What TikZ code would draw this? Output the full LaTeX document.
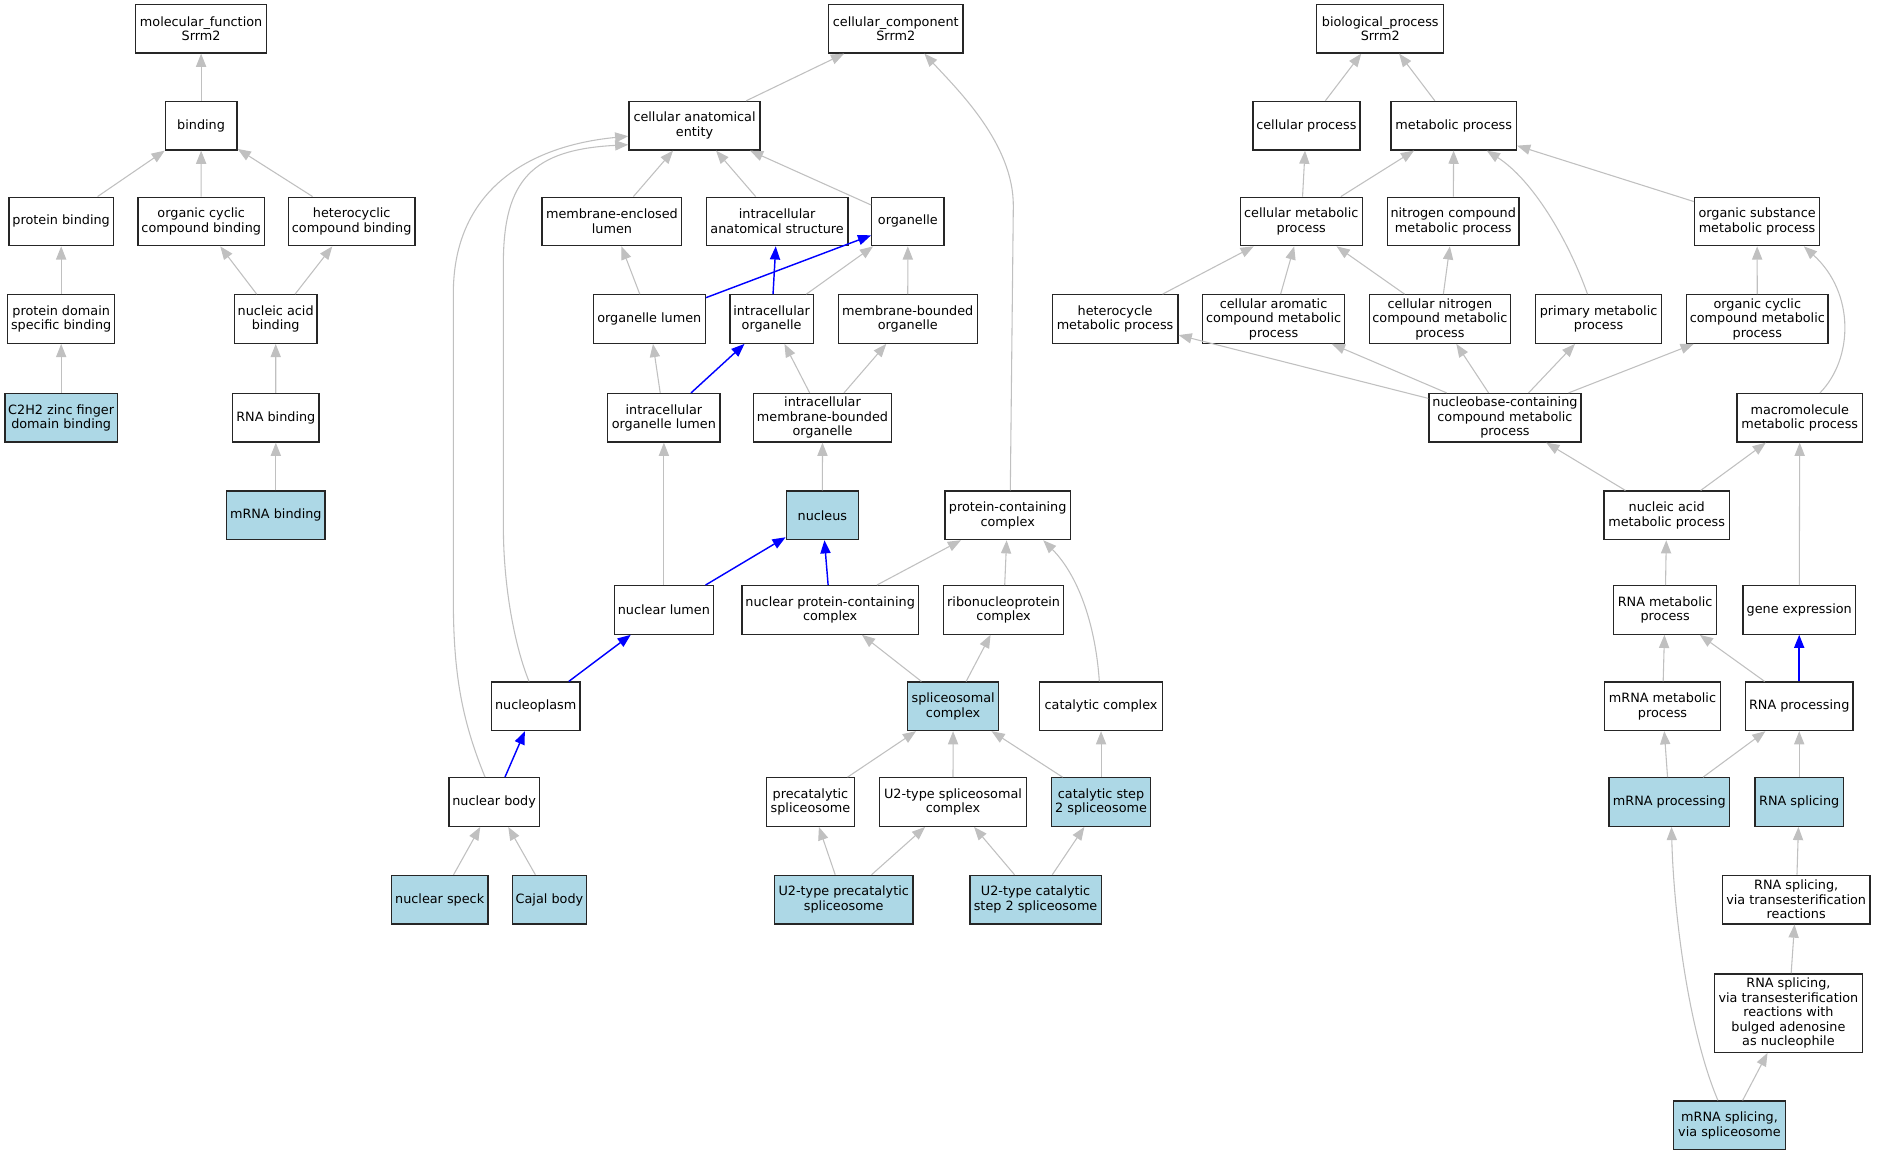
\documentclass[tikz,border=0pt]{standalone}
\usepackage{fontspec}
\setmainfont{DejaVu Sans}
\usetikzlibrary{arrows.meta}
\definecolor{edgegray}{RGB}{192,192,192}
\definecolor{hitblue}{RGB}{173,216,230}
\definecolor{edgeblue}{RGB}{0,0,255}
\tikzset{
  gobox/.style={draw=black!85, line width=1.1pt, fill=white, inner sep=0pt, align=center,
    font=\fontsize{10.7}{12.1}\selectfont, minimum height=40.5pt},
  hitbox/.style={gobox, fill=hitblue},
  gedge/.style={draw=edgegray, line width=0.9pt, -{Triangle[length=11pt,width=8.5pt]}},
  bedge/.style={draw=edgeblue, line width=1.2pt, -{Triangle[length=11pt,width=8.5pt]}}
}
\begin{document}
\begin{tikzpicture}[x=1pt, y=-1pt]
\useasboundingbox (0,0) rectangle (1568,964.9);
% ---------- molecular function ----------
\node[gobox, minimum width=109.5pt] (mf) at (168,24) {molecular\_function\\Srrm2};
\node[gobox, minimum width=60pt] (bind) at (168,105) {binding};
\node[gobox, minimum width=87.2pt] (pb) at (51.1,185) {protein binding};
\node[gobox, minimum width=105.6pt] (occb) at (168.1,185) {organic cyclic\\compound binding};
\node[gobox, minimum width=105.8pt] (hcb) at (293.8,185) {heterocyclic\\compound binding};
\node[gobox, minimum width=89.4pt] (pdsb) at (51.1,266.5) {protein domain\\specific binding};
\node[gobox, minimum width=69.1pt] (nab) at (230.3,266.5) {nucleic acid\\binding};
\node[hitbox, minimum width=93.8pt] (czf) at (51.1,349) {C2H2 zinc finger\\domain binding};
\node[gobox, minimum width=72.1pt] (rnab) at (230.4,349) {RNA binding};
\node[hitbox, minimum width=82.1pt] (mrnab) at (230.4,430.5) {mRNA binding};
% ---------- cellular component ----------
\node[gobox, minimum width=112.2pt] (cc) at (748.3,24) {cellular\_component\\Srrm2};
\node[gobox, minimum width=109.6pt] (cae) at (580.2,105) {cellular anatomical\\entity};
\node[gobox, minimum width=116.7pt] (mel) at (511.2,185) {membrane-enclosed\\lumen};
\node[gobox, minimum width=118.2pt] (ias) at (649.2,185) {intracellular\\anatomical structure};
\node[gobox, minimum width=60.3pt] (org) at (758.4,185) {organelle};
\node[gobox, minimum width=93.7pt] (ol) at (542.4,266.5) {organelle lumen};
\node[gobox, minimum width=69.5pt] (io) at (644.6,266.5) {intracellular\\organelle};
\node[gobox, minimum width=116pt] (mbo) at (758.3,266.5) {membrane-bounded\\organelle};
\node[gobox, minimum width=93.7pt] (iol) at (554.6,349) {intracellular\\organelle lumen};
\node[gobox, minimum width=115.8pt] (imbo) at (687.1,349) {intracellular\\membrane-bounded\\organelle};
\node[hitbox, minimum width=60.3pt] (nuc) at (687,430.5) {nucleus};
\node[gobox, minimum width=104.9pt] (pcc) at (841.8,430.5) {protein-containing\\complex};
\node[gobox, minimum width=82.4pt] (nl) at (554.6,509.5) {nuclear lumen};
\node[gobox, minimum width=147.4pt] (npc) at (693.5,509.5) {nuclear protein-containing\\complex};
\node[gobox, minimum width=100.5pt] (rnp) at (838.4,509.5) {ribonucleoprotein\\complex};
\node[gobox, minimum width=74.1pt] (np) at (447.5,590) {nucleoplasm};
\node[hitbox, minimum width=76.1pt] (sc) at (796.2,590) {spliceosomal\\complex};
\node[gobox, minimum width=102.5pt] (catc) at (919.8,590) {catalytic complex};
\node[gobox, minimum width=75.7pt] (nb) at (412.8,670) {nuclear body};
\node[gobox, minimum width=73.4pt] (pcs) at (677,670) {precatalytic\\spliceosome};
\node[gobox, minimum width=123pt] (u2sc) at (796.1,670) {U2-type spliceosomal\\complex};
\node[hitbox, minimum width=82.8pt] (cs2) at (919.8,670) {catalytic step\\2 spliceosome};
\node[hitbox, minimum width=80.7pt] (ns) at (367.3,751.5) {nuclear speck};
\node[hitbox, minimum width=62.3pt] (cb) at (459,751.5) {Cajal body};
\node[hitbox, minimum width=115.6pt] (u2pcs) at (704.8,751.5) {U2-type precatalytic\\spliceosome};
\node[hitbox, minimum width=109.6pt] (u2cs2) at (865.1,751.5) {U2-type catalytic\\step 2 spliceosome};
% ---------- biological process ----------
\node[gobox, minimum width=106pt] (bp) at (1153,24) {biological\_process\\Srrm2};
\node[gobox, minimum width=89.4pt] (cp) at (1091.3,105) {cellular process};
\node[gobox, minimum width=104.8pt] (mp) at (1214.4,105) {metabolic process};
\node[gobox, minimum width=102pt] (cmp) at (1087,185) {cellular metabolic\\process};
\node[gobox, minimum width=110pt] (ncmp) at (1214,185) {nitrogen compound\\metabolic process};
\node[gobox, minimum width=104.4pt] (osmp) at (1467.8,185) {organic substance\\metabolic process};
\node[gobox, minimum width=105pt] (hmp) at (931.5,266.5) {heterocycle\\metabolic process};
\node[gobox, minimum width=118.3pt] (camp) at (1063.9,266.5) {cellular aromatic\\compound metabolic\\process};
\node[gobox, minimum width=118.3pt] (cncmp) at (1202.9,266.5) {cellular nitrogen\\compound metabolic\\process};
\node[gobox, minimum width=105.2pt] (pmp) at (1335.4,266.5) {primary metabolic\\process};
\node[gobox, minimum width=118pt] (occmp) at (1468,266.5) {organic cyclic\\compound metabolic\\process};
\node[gobox, minimum width=127pt] (nbcmp) at (1257.2,349) {nucleobase-containing\\compound metabolic\\process};
\node[gobox, minimum width=105pt] (mmp) at (1503.5,349) {macromolecule\\metabolic process};
\node[gobox, minimum width=104.6pt] (namp) at (1392.3,430.5) {nucleic acid\\metabolic process};
\node[gobox, minimum width=86pt] (rmp) at (1391,509.5) {RNA metabolic\\process};
\node[gobox, minimum width=94pt] (gexp) at (1503,509.5) {gene expression};
\node[gobox, minimum width=96.5pt] (mrmp) at (1388.8,590) {mRNA metabolic\\process};
\node[gobox, minimum width=90pt] (rp) at (1503,590) {RNA processing};
\node[hitbox, minimum width=101pt] (mrp) at (1394.5,670) {mRNA processing};
\node[hitbox, minimum width=74pt] (rs) at (1503,670) {RNA splicing};
\node[gobox, minimum width=123pt] (rstr) at (1500.5,751.5) {RNA splicing,\\via transesterification\\reactions};
\node[gobox, minimum width=124pt, minimum height=65.5pt] (rsbul) at (1494,846.3) {RNA splicing,\\via transesterification\\reactions with\\bulged adenosine\\as nucleophile};
\node[hitbox, minimum width=93.5pt] (mrss) at (1444.8,940) {mRNA splicing,\\via spliceosome};
% ---------- edges: molecular function ----------
\draw[gedge] (bind) -- (mf);
\draw[gedge] (pb) -- (bind);
\draw[gedge] (occb) -- (bind);
\draw[gedge] (hcb) -- (bind);
\draw[gedge] (pdsb) -- (pb);
\draw[gedge] (nab) -- (occb);
\draw[gedge] (nab) -- (hcb);
\draw[gedge] (czf) -- (pdsb);
\draw[gedge] (rnab) -- (nab);
\draw[gedge] (mrnab) -- (rnab);
% ---------- edges: cellular component ----------
\draw[gedge] (cae) -- (cc);
\draw[gedge] (pcc.84) -- (846.5,172) .. controls (846.6,120) and (800,75) .. (cc.-41.6);
\draw[gedge] (mel) -- (cae);
\draw[gedge] (ias) -- (cae);
\draw[gedge] (org) -- (cae);
\draw[gedge] (ol) -- (mel);
\draw[bedge] (ol) -- (org);
\draw[bedge] (io) -- (ias);
\draw[gedge] (io) -- (org);
\draw[gedge] (mbo) -- (org);
\draw[gedge] (iol) -- (ol);
\draw[bedge] (iol) -- (io);
\draw[gedge] (imbo) -- (io);
\draw[gedge] (imbo) -- (mbo);
\draw[gedge] (nuc) -- (imbo);
\draw[gedge] (nl) -- (iol);
\draw[bedge] (nl) -- (nuc);
\draw[bedge] (npc) -- (nuc);
\draw[gedge] (npc) -- (pcc);
\draw[gedge] (rnp) -- (pcc);
\draw[gedge] (catc.94) .. controls (915,520) and (900,480) .. (pcc.-35);
\draw[gedge] (np.105) .. controls (430,540) and (420.5,490) .. (420.5,440) -- (420.5,220)
  .. controls (420.5,150) and (445,125) .. (cae.196.8);
\draw[bedge] (np) -- (nl);
\draw[bedge] (nb) -- (np);
\draw[gedge] (nb.110.6) .. controls (385,600) and (378.7,560) .. (378.7,500) -- (378.7,245)
  .. controls (378.7,160) and (440,122) .. (cae.189.8);
\draw[gedge] (sc) -- (npc);
\draw[gedge] (sc) -- (rnp);
\draw[gedge] (pcs) -- (sc);
\draw[gedge] (u2sc) -- (sc);
\draw[gedge] (cs2) -- (sc);
\draw[gedge] (cs2) -- (catc);
\draw[gedge] (ns) -- (nb);
\draw[gedge] (cb) -- (nb);
\draw[gedge] (u2pcs) -- (pcs);
\draw[gedge] (u2pcs) -- (u2sc);
\draw[gedge] (u2cs2) -- (u2sc);
\draw[gedge] (u2cs2) -- (cs2);
% ---------- edges: biological process ----------
\draw[gedge] (cp) -- (bp);
\draw[gedge] (mp) -- (bp);
\draw[gedge] (cmp) -- (cp);
\draw[gedge] (cmp) -- (mp);
\draw[gedge] (ncmp) -- (mp);
\draw[gedge] (pmp.114) .. controls (1310,200) and (1280,150) .. (mp.-37);
\draw[gedge] (osmp) -- (mp);
\draw[gedge] (hmp) -- (cmp);
\draw[gedge] (camp) -- (cmp);
\draw[gedge] (cncmp) -- (cmp);
\draw[gedge] (cncmp) -- (ncmp);
\draw[gedge] (occmp) -- (osmp);
\draw[gedge] (mmp.51) .. controls (1548,300) and (1550,245) .. (osmp.-28);
\draw[gedge] (nbcmp) -- (hmp);
\draw[gedge] (nbcmp) -- (camp);
\draw[gedge] (nbcmp) -- (cncmp);
\draw[gedge] (nbcmp) -- (pmp);
\draw[gedge] (nbcmp) -- (occmp);
\draw[gedge] (namp) -- (nbcmp);
\draw[gedge] (namp) -- (mmp);
\draw[gedge] (rmp) -- (namp);
\draw[gedge] (gexp) -- (mmp);
\draw[gedge] (mrmp) -- (rmp);
\draw[gedge] (rp) -- (rmp);
\draw[bedge] (rp) -- (gexp);
\draw[gedge] (mrp) -- (mrmp);
\draw[gedge] (mrp) -- (rp);
\draw[gedge] (rs) -- (rp);
\draw[gedge] (rstr) -- (rs);
\draw[gedge] (rsbul) -- (rstr);
\draw[gedge] (mrss) -- (rsbul);
\draw[gedge] (mrss.115) .. controls (1410,860) and (1398,760) .. (mrp.-85);
\end{tikzpicture}
\end{document}
